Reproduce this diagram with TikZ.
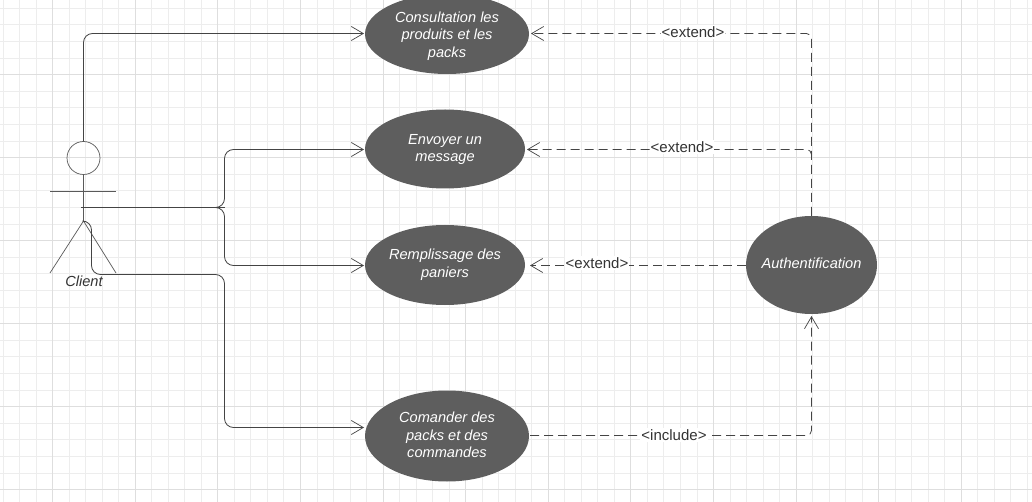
\documentclass[tikz,border=0pt]{standalone}
\usepackage{fontspec}
\setmainfont{Liberation Sans}
\usetikzlibrary{shapes.geometric, arrows.meta, positioning, calc}

\definecolor{usecasefill}{HTML}{5E5E5E}
\definecolor{linecol}{HTML}{444444}
\newcommand{\casetext}[2]{\raisebox{\dimexpr#1-3.6pt\relax}[0pt][0pt]{\begin{tabular}{@{}c@{}}#2\end{tabular}}}
\tikzset{
  usecase/.style={ellipse, fill=usecasefill, text=white, inner sep=0pt, inner xsep=-6pt, align=center, font=\fontsize{14.6}{17.5}\selectfont\itshape},
  assoc/.style={draw=linecol, line width=0.8pt, rounded corners=9pt, -{Straight Barb[length=12pt,width=14pt,line width=0.7pt]}},
  plainline/.style={draw=linecol, line width=0.8pt, rounded corners=9pt},
  dep/.style={assoc, dash pattern=on 9pt off 5pt, rounded corners=5pt},
  deplabel/.style={fill=white, inner sep=1pt, text=black!80, font=\fontsize{15}{17}\selectfont},
  actorline/.style={draw=black!65, line width=0.7pt}
}

\begin{document}
\begin{tikzpicture}[x=1pt,y=-1pt]
\clip (0,0) rectangle (1032,502);
\useasboundingbox (0,0) rectangle (1032,502);
\fill[white] (0,0) rectangle (1032,502);

% grid
\foreach \i in {0,...,62} {
  \draw[black!7, line width=0.7pt] ({3+16.52*\i},0) -- ({3+16.52*\i},502);
}
\foreach \i in {0,...,30} {
  \draw[black!7, line width=0.7pt] (0,{8.1+16.6*\i}) -- (1032,{8.1+16.6*\i});
}
\foreach \i in {0,...,12} {
  \draw[black!13, line width=0.8pt] ({52.5+82.6*\i},0) -- ({52.5+82.6*\i},502);
}
\foreach \i in {0,...,5} {
  \draw[black!13, line width=0.8pt] (0,{74.5+83*\i}) -- (1032,{74.5+83*\i});
}

% use cases
\node[usecase, minimum width=164pt, minimum height=80pt] (consult) at (447,34) {\casetext{-2.5pt}{Consultation les\\produits et les\\packs}};
\node[usecase, minimum width=160pt, minimum height=79pt] (envoyer) at (445,149) {\casetext{-0.5pt}{Envoyer un\\message}};
\node[usecase, minimum width=160pt, minimum height=80pt] (panier) at (445,265) {\casetext{0pt}{Remplissage des\\paniers}};
\node[usecase, minimum width=164pt, minimum height=91pt] (commande) at (447,436) {\casetext{-0.5pt}{Comander des\\packs et des\\commandes}};
\node[usecase, minimum width=131pt, minimum height=98pt] (auth) at (811.5,265) {\casetext{0pt}{Authentification}};

% actor
\node[circle, actorline, minimum size=33pt, inner sep=0pt] (head) at (83.5,158) {};
\coordinate (hip) at (83.5,221);
\coordinate (armL) at (50,191);
\coordinate (armR) at (116,191);
\coordinate (footL) at (50,273);
\coordinate (footR) at (116,273);
\draw[actorline] (head.south) -- (hip);
\draw[actorline] (armL) -- (armR);
\draw[actorline] (footL) -- (hip) -- (footR);
\node[font=\fontsize{14.6}{17}\selectfont\itshape, text=black!80, inner sep=0pt] (client) at (84,281) {Client};

% client links
\coordinate (waist) at (81,207.5);
\coordinate (fork) at (224.5,207.5);
\coordinate (consultIn) at (364,33.5);
\coordinate (envoyerIn) at (364,149.5);
\coordinate (panierIn) at (364,265.5);
\coordinate (commandeIn) at (364,427.5);
\draw[assoc] (head.north) |- (consultIn);
\draw[plainline] (waist) -- (fork);
\draw[assoc] (fork) ++(-9,0) -- ++(9,0) |- (envoyerIn);
\draw[assoc] (fork) ++(-9,0) -- ++(9,0) |- (panierIn);
\draw[assoc] (hip) -- (91.5,221) -- (91.5,274.5) -- (224.5,274.5) -- (224.5,427.5) -- (commandeIn);

% dependencies
\coordinate (consultOut) at (531,33.5);
\coordinate (envoyerOut) at (527,149.5);
\coordinate (panierOut) at (530,265.5);
\coordinate (commandeOut) at (530,435.5);
\coordinate (authIn) at (811.5,316);
\draw[dep] (auth.north) |- (consultOut);
\draw[dep] (811.5,158) -- (811.5,149.5) -- (envoyerOut);
\draw[dep] (auth.west |- panierOut) -- (panierOut);
\draw[dep] (commandeOut) -| (authIn);

\node[deplabel] (ext1) at (693,32) {<extend>};
\node[deplabel] (ext2) at (682,147) {<extend>};
\node[deplabel] (ext3) at (597,263) {<extend>};
\node[deplabel] (incl) at (674,435) {<include>};
\end{tikzpicture}
\end{document}
